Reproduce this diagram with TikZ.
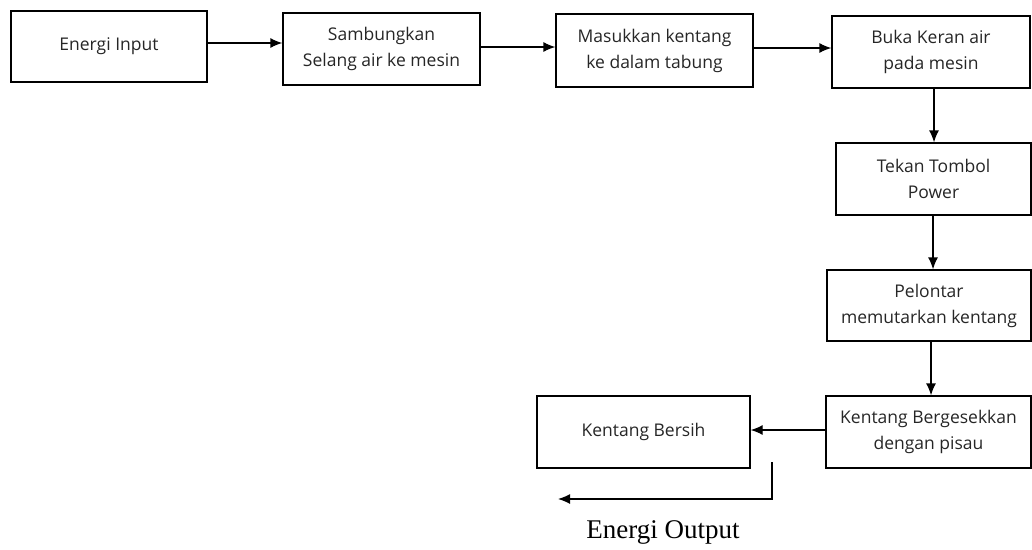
\documentclass[tikz,border=0pt]{standalone}
\usepackage{fontspec}
\setmainfont{Liberation Serif}
\newfontfamily\boxfont{Open Sans}
\usetikzlibrary{arrows.meta}
\begin{document}
\begin{tikzpicture}[x=1pt,y=-1pt,
  box/.style={draw, line width=1.3pt, minimum width=#1, inner sep=0pt, align=center,
    text=black!85, font=\boxfont\fontsize{17.5}{26}\selectfont},
  arr/.style={line width=1.3pt, -{Latex[length=12pt,width=10pt]}}]
\useasboundingbox (0,0) rectangle (1032,549);
\node[box=196pt, minimum height=71pt] (b1) at (109,46.5) {Energi Input};
\node[box=197pt, minimum height=72pt] (b2) at (381.5,49) {Sambungkan\\Selang air ke mesin};
\node[box=197pt, minimum height=73pt] (b3) at (654.5,50.5) {Masukkan kentang\\ke dalam tabung};
\node[box=198pt, minimum height=72pt] (b4) at (931,52) {Buka Keran air\\pada mesin};
\node[box=195pt, minimum height=72pt] (b5) at (933.5,179) {Tekan Tombol\\Power};
\node[box=204pt, minimum height=71pt] (b6) at (929,305.5) {Pelontar\\memutarkan kentang};
\node[box=205pt, minimum height=72pt] (b7) at (928.5,432) {Kentang Bergesekkan\\dengan pisau};
\node[box=213pt, minimum height=72pt] (b8) at (643.5,432) {Kentang Bersih};
\draw[arr] (b1.east |- 0,43) -- (b2.west |- 0,43);
\draw[arr] (b2.east |- 0,47) -- (b3.west |- 0,47);
\draw[arr] (b3.east |- 0,48) -- (b4.west |- 0,48);
\draw[arr] (b4.south -| 934,0) -- (b5.north -| 934,0);
\draw[arr] (b5.south -| 933,0) -- (b6.north -| 933,0);
\draw[arr] (b6.south -| 931,0) -- (b7.north -| 931,0);
\draw[arr] (b7.west |- 0,430) -- (b8.east |- 0,430);
\coordinate (o1) at (772,462);
\coordinate (o2) at (772,499);
\coordinate (o3) at (558,499);
\draw[arr] (o1) -- (o2) -- (o3);
\node[font=\fontsize{27}{32}\selectfont, inner sep=0pt] (out) at (663,532) {Energi Output};
\end{tikzpicture}
\end{document}
